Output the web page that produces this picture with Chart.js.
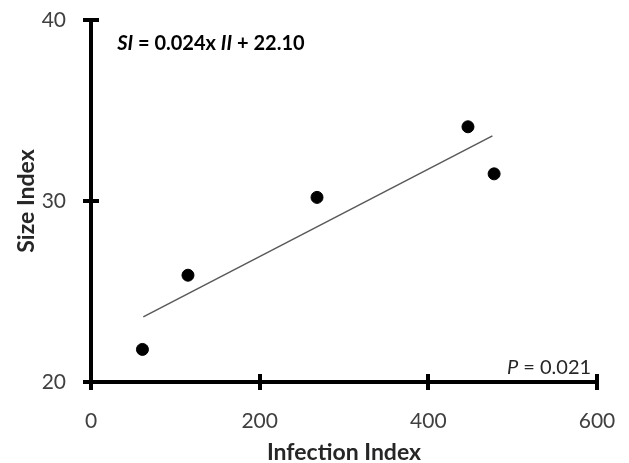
<!DOCTYPE html>
<html>
<head>
<meta charset="utf-8">
<script src="https://cdn.jsdelivr.net/npm/chart.js@4"></script>
<style>
html,body{margin:0;padding:0;background:#fff;}
#wrap{width:629px;height:463px;}
</style>
</head>
<body>
<div id="wrap"><canvas id="c" width="629" height="463"></canvas></div>
<script>
// Data
const infectionIndex = [61, 115, 268, 447, 478];
const sizeIndex = [21.8, 25.9, 30.2, 34.1, 31.5];
const trendX = [62, 476];
const trendY = [23.6, 33.6];
const xTicks = [0, 200, 400, 600];
const yTicks = [20, 30, 40];
const equationParts = [
  {t: 'SI', i: true},
  {t: ' = 0.024x ', i: false},
  {t: 'II', i: true},
  {t: ' + 22.10', i: false}
];
const pLabel = {p: 'P', rest: ' = 0.021'};

const FONT = 'Lato, "Open Sans", sans-serif';

const crossTicks = {
  id: 'crossTicks',
  afterDraw(chart) {
    const ctx = chart.ctx;
    const xs = chart.scales.x, ys = chart.scales.y;
    const ca = chart.chartArea;
    ctx.save();
    ctx.strokeStyle = '#000';
    ctx.lineWidth = 4;
    ctx.lineCap = 'butt';
    xTicks.forEach(v => {
      const px = Math.round(xs.getPixelForValue(v));
      ctx.beginPath();
      ctx.moveTo(px, ca.bottom - 8);
      ctx.lineTo(px, ca.bottom + 8);
      ctx.stroke();
    });
    yTicks.forEach(v => {
      const py = Math.round(ys.getPixelForValue(v));
      ctx.beginPath();
      ctx.moveTo(ca.left - 8, py);
      ctx.lineTo(ca.left + 8, py);
      ctx.stroke();
    });
    // equation
    let x = xs.getPixelForValue(31);
    const y = ys.getPixelForValue(38.72);
    ctx.fillStyle = '#000';
    ctx.textBaseline = 'middle';
    ctx.textAlign = 'left';
    equationParts.forEach(p => {
      ctx.font = (p.i ? 'italic ' : '') + 'bold 20px ' + FONT;
      ctx.fillText(p.t, x, y);
      x += ctx.measureText(p.t).width;
    });
    // P value
    ctx.fillStyle = '#262626';
    const rx = xs.getPixelForValue(593);
    const py2 = ys.getPixelForValue(20.82);
    ctx.font = '20px ' + FONT;
    const wRest = ctx.measureText(pLabel.rest).width;
    ctx.textAlign = 'right';
    ctx.fillText(pLabel.rest, rx, py2);
    ctx.font = 'italic 20px ' + FONT;
    ctx.fillText(pLabel.p, rx - wRest, py2);
    ctx.restore();
  }
};

new Chart(document.getElementById('c'), {
  type: 'scatter',
  data: {
    datasets: [
      {
        label: 'Observed',
        data: infectionIndex.map((v, i) => ({x: v, y: sizeIndex[i]})),
        backgroundColor: '#000',
        borderColor: '#000',
        pointRadius: 6,
        pointHoverRadius: 6,
        order: 1
      },
      {
        label: 'Trend',
        type: 'line',
        data: trendX.map((v, i) => ({x: v, y: trendY[i]})),
        borderColor: '#595959',
        borderWidth: 1.5,
        pointRadius: 0,
        fill: false,
        order: 2
      }
    ]
  },
  options: {
    responsive: false,
    animation: false,
    devicePixelRatio: 1,
    layout: {padding: {top: 20, right: 32, left: 0, bottom: 0}},
    plugins: {legend: {display: false}, tooltip: {enabled: false}},
    scales: {
      x: {
        type: 'linear',
        min: 0, max: 600,
        afterBuildTicks: s => { s.ticks = xTicks.map(v => ({value: v})); },
        afterFit: s => { s.height = 81; s.paddingLeft = 0; s.paddingRight = 0; },
        grid: {display: true, drawOnChartArea: false, drawTicks: false},
        border: {display: true, color: '#000', width: 4},
        ticks: {padding: 27, color: '#404040', font: {family: FONT, size: 21}, maxRotation: 0},
        title: {display: true, text: 'Infection Index', color: '#262626',
                font: {family: FONT, size: 23, weight: 'bold'}, padding: {top: 0, bottom: -3}}
      },
      y: {
        type: 'linear',
        min: 20, max: 40,
        afterBuildTicks: s => { s.ticks = yTicks.map(v => ({value: v})); },
        afterFit: s => { s.width = 91; s.paddingTop = 0; s.paddingBottom = 0; },
        grid: {display: true, drawOnChartArea: false, drawTicks: false},
        border: {display: true, color: '#000', width: 4},
        ticks: {padding: 25, color: '#404040', font: {family: FONT, size: 21}},
        title: {display: true, text: 'Size Index', color: '#262626',
                font: {family: FONT, size: 23, weight: 'bold'}, padding: {top: 13, bottom: 0}}
      }
    }
  },
  plugins: [crossTicks]
});
</script>
</body>
</html>
